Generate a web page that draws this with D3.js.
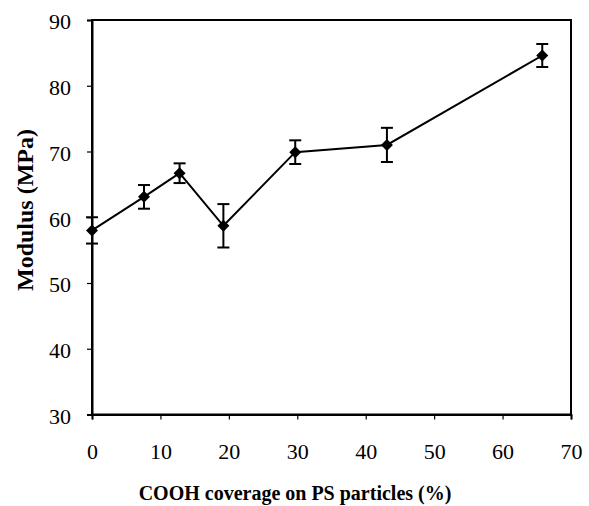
<!DOCTYPE html>
<html><head><meta charset="utf-8">
<script src="https://cdn.jsdelivr.net/npm/d3@7"></script>
<style>body{margin:0;background:#fff}svg text{font-family:"Liberation Serif","Times New Roman",serif;fill:#000}</style>
</head><body><svg id="c" width="589" height="506"></svg>
<script>
const coverage = [0, 7.6, 12.8, 19.2, 29.7, 43.1, 65.8];
const modulus  = [58.0, 63.1, 66.7, 58.7, 69.9, 71.0, 84.6];
const errors   = [2.0, 1.8, 1.5, 3.3, 1.8, 2.6, 1.75];
const xTicks = [0, 10, 20, 30, 40, 50, 60, 70];
const yTicks = [30, 40, 50, 60, 70, 80, 90];
const xTitle = "COOH coverage on PS particles (%)";
const yTitle = "Modulus (MPa)";

const svg = d3.select("#c");
const L = 92, R = 571, T = 20, B = 414.5;
const x = d3.scaleLinear().domain([0, 70]).range([L, R]);
const y = d3.scaleLinear().domain([30, 90]).range([B, T]);

svg.append("rect").attr("x", L).attr("y", T).attr("width", R - L).attr("height", B - T)
  .attr("fill", "none").attr("stroke", "#000").attr("stroke-width", 2);

const xa = svg.append("g").attr("transform", `translate(0,${B})`)
  .call(d3.axisBottom(x).tickValues(xTicks).tickSize(5).tickPadding(24).tickFormat(d3.format("d")));
const ya = svg.append("g").attr("transform", `translate(${L},0)`)
  .call(d3.axisLeft(y).tickValues(yTicks).tickSize(5).tickPadding(16).tickFormat(d3.format("d")));
[xa, ya].forEach(a => {
  a.select(".domain").attr("stroke", "#000").attr("stroke-width", 2);
  a.selectAll(".tick line").attr("stroke", "#000").attr("stroke-width", 1.2);
  a.selectAll("text").style("font-size", "22px").style("font-family", '"Liberation Serif",serif').attr("fill", "#000");
});
ya.selectAll("text").attr("dy", "0.4em");

const data = coverage.map((c, i) => ({c, m: modulus[i], e: errors[i]}));

svg.append("path").datum(data)
  .attr("d", d3.line().x(d => x(d.c)).y(d => y(d.m)))
  .attr("fill", "none").attr("stroke", "#000").attr("stroke-width", 2);

const eb = svg.append("g").attr("stroke", "#000").attr("stroke-width", 2);
data.forEach(d => {
  const cx = x(d.c), cw = 6;
  eb.append("line").attr("x1", cx).attr("x2", cx).attr("y1", y(d.m + d.e)).attr("y2", y(d.m - d.e));
  eb.append("line").attr("x1", cx - cw).attr("x2", cx + cw).attr("y1", y(d.m + d.e)).attr("y2", y(d.m + d.e));
  eb.append("line").attr("x1", cx - cw).attr("x2", cx + cw).attr("y1", y(d.m - d.e)).attr("y2", y(d.m - d.e));
});

svg.append("g").selectAll("path").data(data).join("path")
  .attr("transform", d => `translate(${x(d.c)},${y(d.m)}) rotate(45)`)
  .attr("d", d3.symbol(d3.symbolSquare, 72))
  .attr("fill", "#000");

svg.append("text").attr("x", 295).attr("y", 500).attr("text-anchor", "middle")
  .style("font-size", "20px").style("font-weight", "bold").text(xTitle);
svg.append("text").attr("transform", `translate(33,210) rotate(-90)`)
  .attr("text-anchor", "middle").style("font-size", "24px").style("font-weight", "bold").text(yTitle);
</script></body></html>
